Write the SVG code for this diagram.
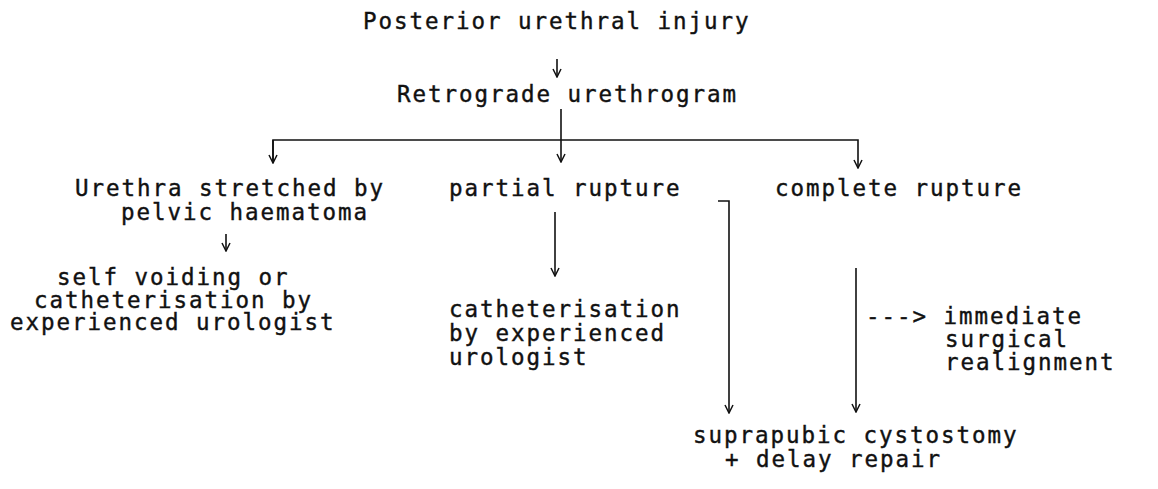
<svg xmlns="http://www.w3.org/2000/svg" width="1158" height="489" viewBox="0 0 1158 489">
<defs>
<style>
text{font-family:"DejaVu Sans Mono","Liberation Mono",monospace;font-size:22.5px;letter-spacing:1.95px;fill:#111;stroke:#111;stroke-width:0.4;}
.c{fill:none;stroke:#111;stroke-width:1.6;}
</style>
<marker id="ah" viewBox="-9 -5 10 10" refX="0" refY="0" markerWidth="10" markerHeight="10" markerUnits="userSpaceOnUse" orient="auto">
<path d="M-8,-4 L0,0 L-8,4" fill="none" stroke="#111" stroke-width="1.5"/>
</marker>
</defs>
<rect width="1158" height="489" fill="#fff"/>
<g id="connectors">
<path class="c" d="M557,59 V77" marker-end="url(#ah)"/>
<path class="c" d="M561,109 V162" marker-end="url(#ah)"/>
<path class="c" d="M273,163 V140 H858 V168" marker-end="url(#ah)"/>
<path class="c" d="M273,140 V163" marker-end="url(#ah)"/>
<path class="c" d="M226,234 V251" marker-end="url(#ah)"/>
<path class="c" d="M555,212 V276" marker-end="url(#ah)"/>
<path class="c" d="M718,201 H729 V413" marker-end="url(#ah)"/>
<path class="c" d="M856,268 V412" marker-end="url(#ah)"/>
</g>
<g id="n-posterior"><text x="363" y="29">Posterior urethral injury</text></g>
<g id="n-retrograde"><text x="397" y="102">Retrograde urethrogram</text></g>
<g id="n-stretched"><text x="75" y="196">Urethra stretched by</text><text x="121" y="220">pelvic haematoma</text></g>
<g id="n-selfvoid"><text x="57" y="285">self voiding or</text><text x="34" y="308">catheterisation by</text><text x="10" y="330">experienced urologist</text></g>
<g id="n-partial"><text x="449" y="196">partial rupture</text></g>
<g id="n-cath"><text x="449" y="317">catheterisation</text><text x="449" y="341">by experienced</text><text x="449" y="365">urologist</text></g>
<g id="n-complete"><text x="775" y="196">complete rupture</text></g>
<g id="n-immediate"><text x="866" y="324">---&gt; immediate</text><text x="945" y="347">surgical</text><text x="945" y="370">realignment</text></g>
<g id="n-suprapubic"><text x="693" y="443">suprapubic cystostomy</text><text x="725" y="467">+ delay repair</text></g>
</svg>
